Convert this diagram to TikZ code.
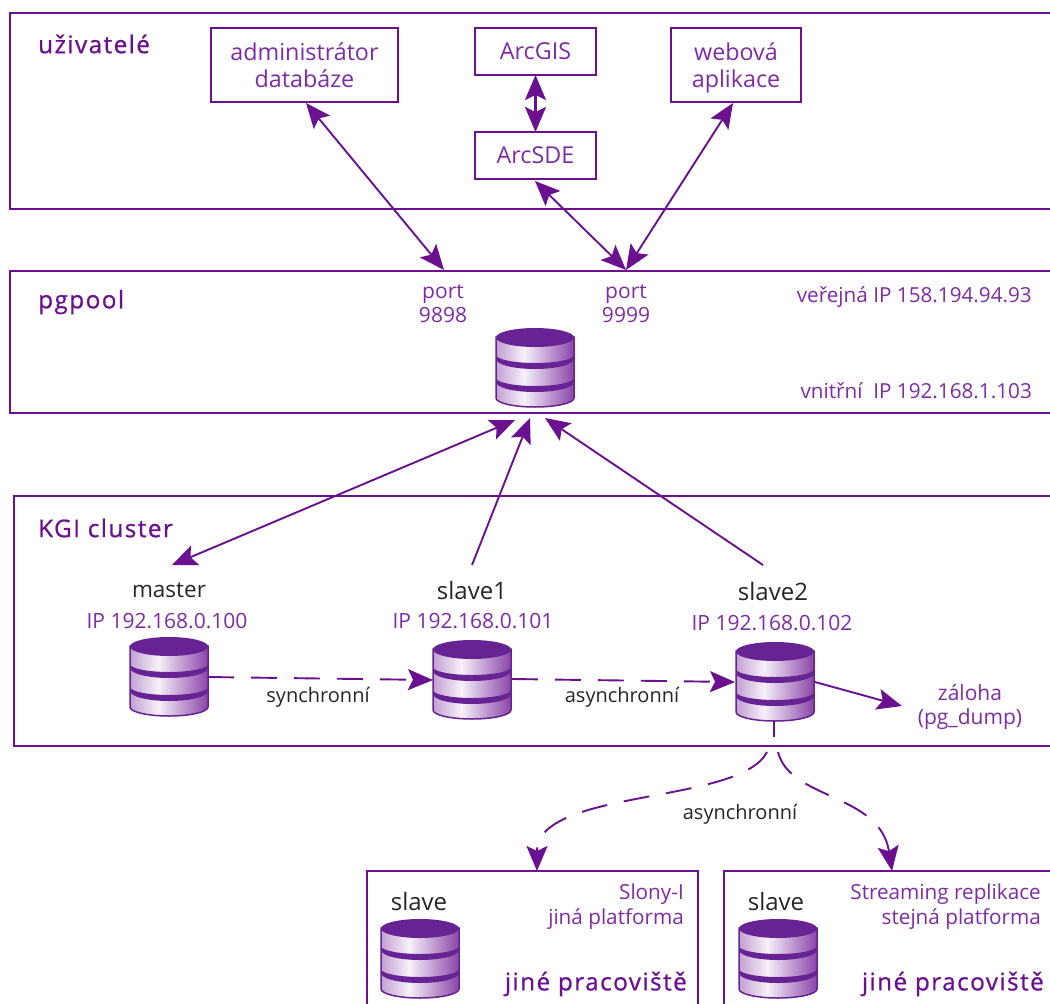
\documentclass[tikz,border=0pt]{standalone}
\usepackage{fontspec}
\setmainfont{Open Sans}
\newfontfamily\ttlfont[LetterSpace=6,FakeBold=0.8]{Open Sans}
\usetikzlibrary{arrows.meta}
\definecolor{pur}{HTML}{6A1090}
\definecolor{purtxt}{HTML}{7E2BA6}
\definecolor{dbdark}{HTML}{672294}
\pgfdeclarehorizontalshading{dbshade}{100bp}{color(0bp)=(pur!40!white); color(25bp)=(pur!40!white); color(43bp)=(pur!6!white); color(75bp)=(pur!78!white); color(100bp)=(pur!78!white)}
\tikzset{
  x=1pt,y=-1pt,
  panel/.style={draw=pur,line width=1.5pt,anchor=north west,inner sep=0pt,outer sep=0pt},
  ubox/.style={draw=pur,line width=1.5pt,text=purtxt,align=center,inner sep=0pt,outer sep=0pt,text depth=0pt,font=\fontsize{23.3}{27}\selectfont},
  titletext/.style={text=pur,anchor=west,inner sep=0pt,font=\fontsize{24.3}{28}\selectfont\ttlfont},
  lbl/.style={text=purtxt,align=center,inner sep=0pt,font=\fontsize{21}{24}\selectfont},
  rlbl/.style={text=purtxt,align=right,anchor=east,inner sep=0pt,font=\fontsize{20.7}{25}\selectfont},
  sname/.style={text=black!85,inner sep=0pt,font=\fontsize{24}{28}\selectfont},
  mname/.style={text=black!85,inner sep=0pt,font=\fontsize{22.5}{26}\selectfont},
  blbl/.style={text=black!85,inner sep=0pt,font=\fontsize{20}{22}\selectfont},
  conn/.style={draw=pur,line width=1.9pt},
  onetip/.style={-{Stealth[length=25pt,width=21pt,inset=5pt]}},
  twotip/.style={{Stealth[length=25pt,width=21pt,inset=5pt]}-{Stealth[length=25pt,width=21pt,inset=5pt]}},
  dashline/.style={dash pattern=on 26pt off 17pt},
  db/.pic={
    \path[shading=dbshade,draw=dbdark,line width=1.5pt]
      (-39,9) -- (-39,70) arc[x radius=39,y radius=9,start angle=180,end angle=0] -- (39,9) -- cycle;
    \fill[dbdark] (-39,9.5) arc[x radius=39,y radius=9.5,start angle=180,end angle=-180];
    \fill[dbdark] (-39,27) arc[x radius=39,y radius=8,start angle=180,end angle=0] -- (39,31)
      arc[x radius=39,y radius=10,start angle=0,end angle=180] -- cycle;
    \fill[dbdark] (-39,50) arc[x radius=39,y radius=8,start angle=180,end angle=0] -- (39,54)
      arc[x radius=39,y radius=10,start angle=0,end angle=180] -- cycle;
  },
}
\begin{document}
\begin{tikzpicture}
\useasboundingbox (0,0) rectangle (1050,1004);
\clip (0,0) rectangle (1050,1004);
% panels
\node[panel,minimum width=1050pt,minimum height=196pt] (puser) at (10,13) {};
\node[panel,minimum width=1050pt,minimum height=142pt] (ppool) at (10,271) {};
\node[panel,minimum width=1050pt,minimum height=250pt] (pkgi) at (14,496) {};
\node[panel,minimum width=331pt,minimum height=150pt] (pa) at (367,871) {};
\node[panel,minimum width=340pt,minimum height=150pt] (pb) at (724,871) {};
% titles
\node[titletext] (tuser) at (38,44) {uživatelé};
\node[titletext] (tpool) at (38,302) {pgpool};
\node[titletext] (tkgi) at (38,528) {KGI cluster};
\node[titletext,anchor=east] (ta) at (687,984) {jiné pracoviště};
\node[titletext,anchor=east] (tb) at (1044,984) {jiné pracoviště};
% user boxes
\node[ubox,minimum width=187pt,minimum height=74pt] (admin) at (304.5,65) {administrátor\\databáze};
\node[ubox,minimum width=121pt,minimum height=47pt] (arcgis) at (535.5,51.5) {ArcGIS};
\node[ubox,minimum width=121pt,minimum height=47pt] (arcsde) at (535.5,155.5) {ArcSDE};
\node[ubox,minimum width=130pt,minimum height=74pt] (web) at (736,65) {webová\\aplikace};
% pgpool
\node[lbl] (p9898) at (443,304) {port\\9898};
\node[lbl] (p9999) at (626,304) {port\\9999};
\node[rlbl] (pub) at (1032,297) {veřejná IP 158.194.94.93};
\node[rlbl] (int) at (1032,391) {vnitřní\ \ IP 192.168.1.103};
\coordinate (dbpool) at (535,328);
\pic at (dbpool) {db};
\coordinate (a9898) at (444,270);
\coordinate (a9999) at (626,270);
% KGI
\node[mname] (nmaster) at (169,590) {master};
\node[sname] (nslave1) at (472,590) {slave1};
\node[sname] (nslave2) at (773,591) {slave2};
\node[lbl] (ipm) at (167,621) {IP 192.168.0.100};
\node[lbl] (ips1) at (473,621) {IP 192.168.0.101};
\node[lbl] (ips2) at (772,623) {IP 192.168.0.102};
\pic at (169,637) {db};
\pic at (472,640) {db};
\pic at (775,642) {db};
\coordinate (dm) at (208,677);
\coordinate (ds1in) at (433,680);
\coordinate (ds1out) at (512,679);
\coordinate (ds2in) at (735,682);
\coordinate (ds2out) at (815,682);
\node[blbl] (sync) at (318,697) {synchronní};
\node[blbl] (async1) at (622,697) {asynchronní};
\node[lbl] (zal) at (970,707) {záloha\\(pg\_dump)};
\node[blbl] (async2) at (740,814) {asynchronní};
% bottom
\node[sname] (sa) at (419,901) {slave};
\node[sname] (sb) at (776,901) {slave};
\pic at (420,919) {db};
\pic at (778,919) {db};
\node[rlbl] (la) at (684,907) {Slony-I\\jiná platforma};
\node[rlbl] (lb) at (1041,907) {Streaming replikace\\stejná platforma};
% connectors
\coordinate (c1) at (172,565);
\coordinate (c2) at (515,420);
\coordinate (c3) at (472,565);
\coordinate (c4) at (530,418);
\coordinate (c5) at (763,565);
\coordinate (c6) at (545,418);
\coordinate (adm) at (306,103);
\coordinate (sde) at (535,181);
\coordinate (wb) at (733,103);
\draw[conn,twotip] (adm) -- (a9898);
\draw[conn,twotip] (sde) -- (a9999);
\draw[conn,twotip] (wb) -- (a9999);
\draw[conn,twotip,line width=2.4pt] (arcgis) -- (arcsde);
\draw[conn,twotip] (c1) -- (c2);
\draw[conn,onetip] (c3) -- (c4);
\draw[conn,onetip] (c5) -- (c6);
\draw[conn,onetip,dashline] (dm) -- (ds1in);
\draw[conn,onetip,dashline] (ds1out) -- (ds2in);
\coordinate (zalin) at (902,706);
\draw[conn,onetip] (ds2out) -- (zalin);
\coordinate (stubA) at (774,721);
\coordinate (stubB) at (774,737);
\draw[conn] (stubA) -- (stubB);
\coordinate (cl) at (767,752);
\coordinate (cr) at (778,752);
\coordinate (tl) at (537,871);
\coordinate (tr) at (892,871);
\draw[conn,onetip,dashline] (cl) .. controls (740,805) and (537,788) .. (tl);
\draw[conn,onetip,dashline] (cr) .. controls (790,800) and (880,793) .. (tr);
\end{tikzpicture}
\end{document}
